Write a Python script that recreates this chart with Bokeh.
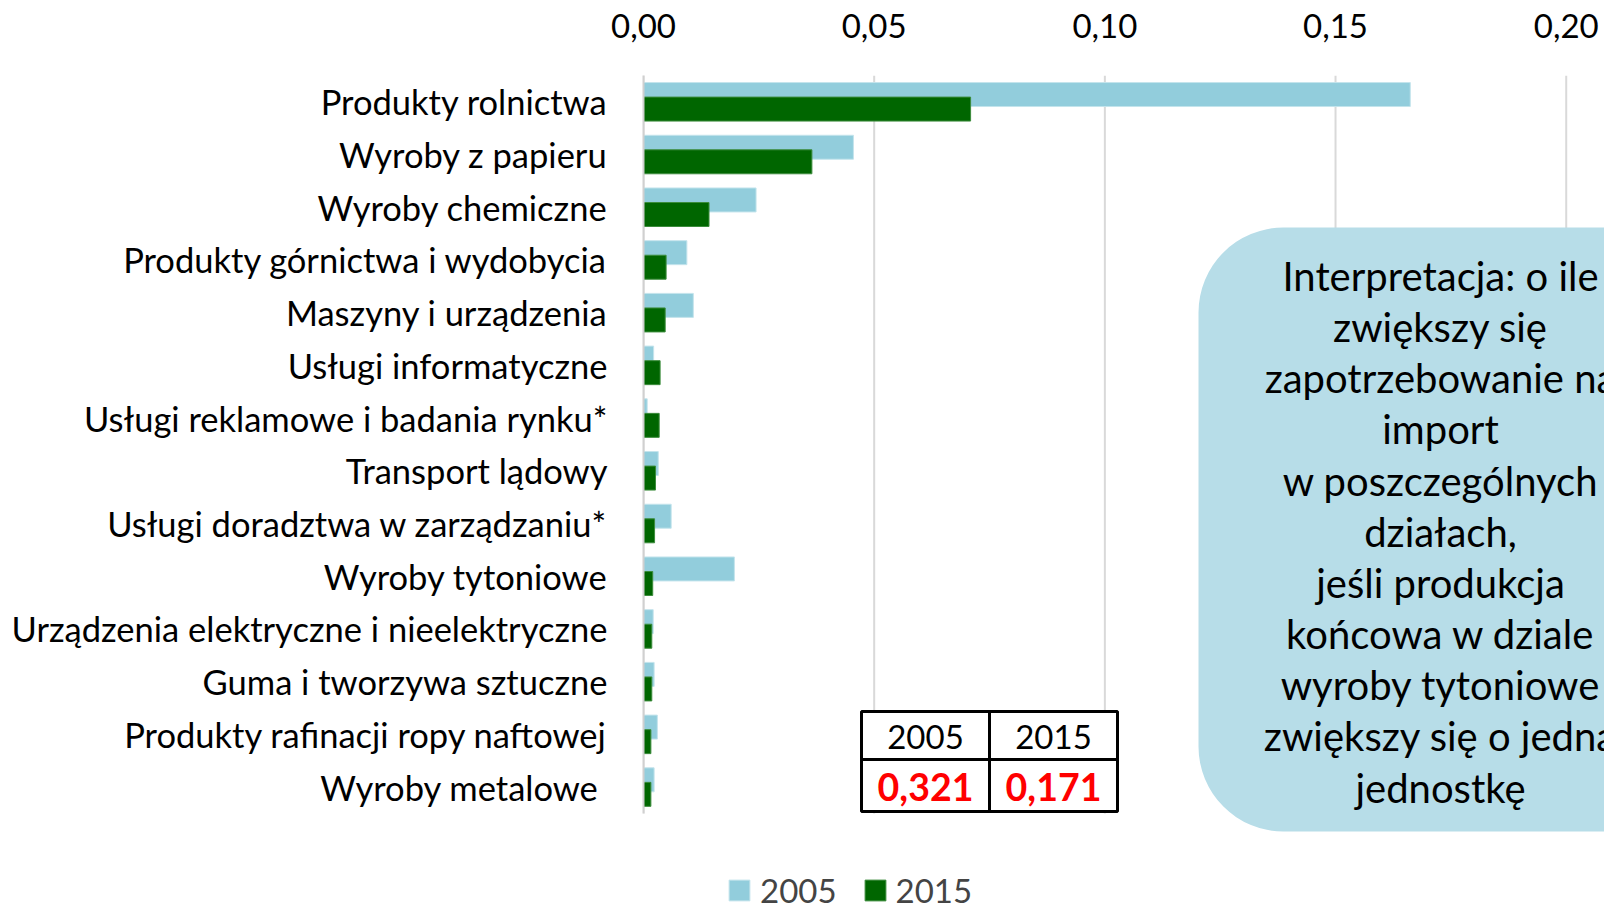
from bokeh.plotting import figure
from bokeh.models import (Range1d, FixedTicker, CustomJSTickFormatter,
                          BoxAnnotation, Label, Legend, LegendItem, ColumnDataSource)
from bokeh.embed import file_html
from bokeh.resources import INLINE

# ---------------- data ----------------
categories = [
    "Produkty rolnictwa",
    "Wyroby z papieru",
    "Wyroby chemiczne",
    "Produkty górnictwa i wydobycia",
    "Maszyny i urządzenia",
    "Usługi informatyczne",
    "Usługi reklamowe i badania rynku*",
    "Transport lądowy",
    "Usługi doradztwa w zarządzaniu*",
    "Wyroby tytoniowe",
    "Urządzenia elektryczne i nieelektryczne",
    "Guma i tworzywa sztuczne",
    "Produkty rafinacji ropy naftowej",
    "Wyroby metalowe",
]
values_2005 = [0.1662, 0.0455, 0.0244, 0.0094, 0.0108, 0.0022, 0.0008,
               0.0032, 0.0060, 0.0197, 0.0021, 0.0023, 0.0030, 0.0023]
values_2015 = [0.0709, 0.0365, 0.0142, 0.0049, 0.0047, 0.0036, 0.0034,
               0.0026, 0.0024, 0.0020, 0.0018, 0.0018, 0.0016, 0.0016]
series_names = ["2005", "2015"]
x_ticks = [0.0, 0.05, 0.10, 0.15, 0.20]
table_years = ["2005", "2015"]
table_totals = ["0,321", "0,171"]
note_lines = [
    "Interpretacja: o ile",
    "zwiększy się",
    "zapotrzebowanie na",
    "import",
    "w poszczególnych",
    "działach,",
    "jeśli produkcja",
    "końcowa w dziale",
    "wyroby tytoniowe",
    "zwiększy się o jedną",
    "jednostkę",
]

# ---------------- layout ----------------
FONT = "Lato"
W, H = 1604, 904
FL, FT = 643, 75            # frame left / top (canvas px)
FR, FB = W, H               # frame right / bottom
N = len(categories)
PPC = 52.714                # px per category band
XMAX = 0.2083
PPU = (FR - FL) / XMAX
YMIN = N - (FB - FT) / PPC


def dx(X):   # canvas px -> data x
    return (X - FL) / PPU


def dy(Y):   # canvas px -> data y
    return N - (Y - FT) / PPC


pos = [N - 0.5 - i for i in range(N)]

p = figure(width=W, height=H, output_backend="svg", toolbar_location=None,
           y_range=Range1d(YMIN, N), x_range=Range1d(0, XMAX), x_axis_location="above",
           min_border_left=FL, min_border_right=0, min_border_top=FT,
           min_border_bottom=0)
p.outline_line_color = None
p.background_fill_color = "white"
p.grid.visible = False

# grid lines limited to the category area
p.segment(x0=x_ticks, x1=x_ticks, y0=[0] * len(x_ticks), y1=[N] * len(x_ticks),
          line_color="#D9D9D9", line_width=2)

src = ColumnDataSource(dict(
    y05=[v + 0.139 for v in pos], y15=[v - 0.137 for v in pos],
    v2005=values_2005, v2015=values_2015))
r1 = p.hbar(y="y05", left=0, right="v2005", height=0.455,
            fill_color="#92CDDC", line_color="#C4E4EC", line_width=1, source=src)
r2 = p.hbar(y="y15", left=0, right="v2015", height=0.455,
            fill_color="#006600", line_color="#3C8C3C", line_width=1, source=src)

# axes
xa = p.xaxis[0]
xa.ticker = FixedTicker(ticks=x_ticks)
xa.formatter = CustomJSTickFormatter(code="return tick.toFixed(2).replace('.', ',');")
xa.axis_line_color = None
xa.major_tick_line_color = None
xa.minor_tick_line_color = None
xa.major_label_text_font = FONT
xa.major_label_text_font_size = "33px"
xa.major_label_text_color = "black"
xa.major_label_standoff = 32

ya = p.yaxis[0]
ya.ticker = FixedTicker(ticks=pos)
overrides = {pv: c for pv, c in zip(pos, categories)}
overrides[pos[-1]] = categories[-1] + "\u00a0"
ya.major_label_overrides = overrides
ya.bounds = (0, N)
ya.axis_line_color = "#D0D0D0"
ya.axis_line_width = 2
ya.major_tick_line_color = None
ya.minor_tick_line_color = None
ya.major_tick_out = 0
ya.major_tick_in = 0
ya.major_label_standoff = 36
ya.major_label_text_font = FONT
ya.major_label_text_font_size = "34.5px"
ya.major_label_text_color = "black"

# note box
p.add_layout(BoxAnnotation(left=dx(1198), right=dx(1900), top=dy(227), bottom=dy(831),
                           fill_color="#B7DDE8", fill_alpha=1, line_alpha=0,
                           border_radius=85))
for i, t in enumerate(note_lines):
    p.add_layout(Label(x=dx(1440), y=dy(275.5 + i * 51.15), text=t,
                       text_align="center", text_baseline="middle",
                       text_font=FONT, text_font_size="40px", text_color="black"))

# table
cells_x = [(861, 989), (989, 1117)]
rows_y = [(711, 759), (759, 811)]
for (l, r) in cells_x:
    for (t, b) in rows_y:
        p.add_layout(BoxAnnotation(left=dx(l), right=dx(r), top=dy(t), bottom=dy(b),
                                   fill_color="white", fill_alpha=1,
                                   line_color="black", line_alpha=1, line_width=3))
for j, (l, r) in enumerate(cells_x):
    cx = (l + r) / 2
    p.add_layout(Label(x=dx(cx), y=dy(736), text=table_years[j], text_align="center",
                       text_baseline="middle", text_font=FONT, text_font_size="33px",
                       text_color="black"))
    p.add_layout(Label(x=dx(cx), y=dy(786), text=table_totals[j], text_align="center",
                       text_baseline="middle", text_font=FONT, text_font_size="37.5px",
                       text_font_style="bold", text_color="#FF0000"))

legend = Legend(items=[LegendItem(label=series_names[0], renderers=[r1]),
                       LegendItem(label=series_names[1], renderers=[r2])],
                orientation="horizontal", location=(83, -6),
                border_line_color=None, background_fill_alpha=0,
                padding=0, margin=0, spacing=25, label_standoff=8,
                glyph_width=26, glyph_height=26,
                label_text_font=FONT, label_text_font_size="33px")
p.add_layout(legend, "center")

open("out.html", "w").write(file_html(p, INLINE))
